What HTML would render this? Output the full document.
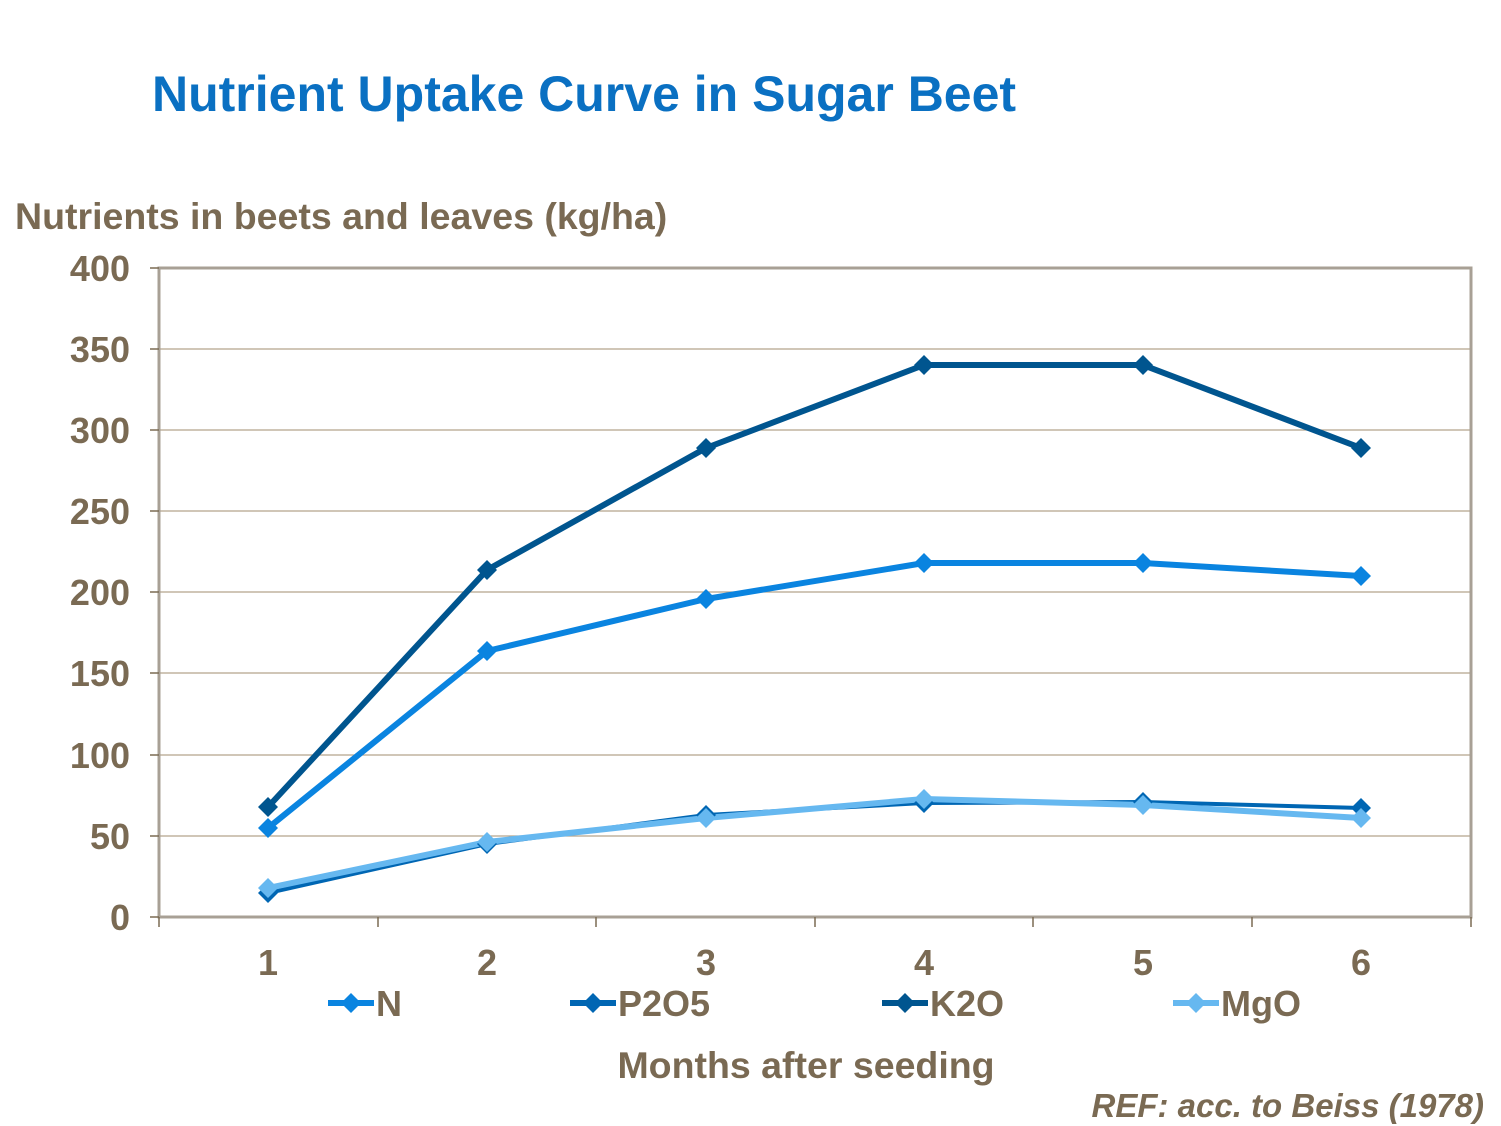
<!DOCTYPE html>
<html><head><style>body{margin:0;background:#fff}svg{display:block}</style></head><body>
<svg width="1501" height="1126" viewBox="0 0 1501 1126" font-family="Liberation Sans, Arial, sans-serif" font-weight="bold">
<text x="152" y="111" font-size="50" fill="#0A70C2">Nutrient Uptake Curve in Sugar Beet</text>
<text x="15" y="229" font-size="37.5" fill="#7A6A53">Nutrients in beets and leaves (kg/ha)</text>
<g stroke="#B5A58C" stroke-width="1.2">
<line x1="159" y1="349" x2="1471" y2="349"/><line x1="159" y1="430" x2="1471" y2="430"/>
<line x1="159" y1="511" x2="1471" y2="511"/><line x1="159" y1="592" x2="1471" y2="592"/>
<line x1="159" y1="673" x2="1471" y2="673"/><line x1="159" y1="755" x2="1471" y2="755"/>
<line x1="159" y1="836" x2="1471" y2="836"/>
</g>
<rect x="159" y="268" width="1312" height="649" fill="none" stroke="#A8A095" stroke-width="3"/>
<g stroke="#7A6A53" stroke-width="1.5">
<line x1="150" y1="268" x2="159" y2="268"/><line x1="150" y1="349" x2="159" y2="349"/><line x1="150" y1="430" x2="159" y2="430"/><line x1="150" y1="511" x2="159" y2="511"/><line x1="150" y1="592" x2="159" y2="592"/><line x1="150" y1="673" x2="159" y2="673"/><line x1="150" y1="755" x2="159" y2="755"/><line x1="150" y1="836" x2="159" y2="836"/><line x1="150" y1="917" x2="159" y2="917"/>
<line x1="159" y1="917" x2="159" y2="927"/><line x1="378" y1="917" x2="378" y2="927"/><line x1="596" y1="917" x2="596" y2="927"/><line x1="815" y1="917" x2="815" y2="927"/><line x1="1033" y1="917" x2="1033" y2="927"/><line x1="1252" y1="917" x2="1252" y2="927"/><line x1="1471" y1="917" x2="1471" y2="927"/>
</g>
<g font-size="36" fill="#7A6A53" text-anchor="end">
<text x="130" y="281">400</text><text x="130" y="362">350</text><text x="130" y="443">300</text><text x="130" y="524">250</text><text x="130" y="605">200</text><text x="130" y="686">150</text><text x="130" y="768">100</text><text x="130" y="849">50</text><text x="130" y="930">0</text>
</g>
<g font-size="36" fill="#7A6A53" text-anchor="middle">
<text x="268" y="975">1</text><text x="487" y="975">2</text><text x="706" y="975">3</text><text x="924" y="975">4</text><text x="1143" y="975">5</text><text x="1361" y="975">6</text>
<text x="806" y="1078" font-size="37.5">Months after seeding</text>
</g>
<text x="1484" y="1117" font-size="33" font-style="italic" fill="#7A6A53" text-anchor="end">REF: acc. to Beiss (1978)</text>
<defs><path id="d" d="M0,-10 L10,0 L0,10 L-10,0Z"/></defs>
<g fill="none" stroke-width="6" stroke-linejoin="round">
<polyline stroke="#0066B3" stroke-width="4" points="268,893 487,844 706,815 924,803 1143,802 1361,808"/>
<polyline stroke="#66B8F0" points="268,888 487,842 706,818 924,799 1143,805 1361,818"/>
<polyline stroke="#0A84E0" points="268,828 487,651 706,599 924,563 1143,563 1361,576"/>
<polyline stroke="#00558F" points="268,807 487,570 706,448 924,365 1143,365 1361,448"/>
</g>
<g fill="#0066B3"><use href="#d" x="268" y="893"/><use href="#d" x="487" y="844"/><use href="#d" x="706" y="815"/><use href="#d" x="924" y="803"/><use href="#d" x="1143" y="802"/><use href="#d" x="1361" y="808"/></g>
<g fill="#66B8F0"><use href="#d" x="268" y="888"/><use href="#d" x="487" y="842"/><use href="#d" x="706" y="818"/><use href="#d" x="924" y="799"/><use href="#d" x="1143" y="805"/><use href="#d" x="1361" y="818"/></g>
<g fill="#0A84E0"><use href="#d" x="268" y="828"/><use href="#d" x="487" y="651"/><use href="#d" x="706" y="599"/><use href="#d" x="924" y="563"/><use href="#d" x="1143" y="563"/><use href="#d" x="1361" y="576"/></g>
<g fill="#00558F"><use href="#d" x="268" y="807"/><use href="#d" x="487" y="570"/><use href="#d" x="706" y="448"/><use href="#d" x="924" y="365"/><use href="#d" x="1143" y="365"/><use href="#d" x="1361" y="448"/></g>
<g stroke-width="6">
<line x1="328" y1="1003" x2="374" y2="1003" stroke="#0A84E0"/><use href="#d" x="351" y="1003" fill="#0A84E0"/>
<line x1="570" y1="1003" x2="616" y2="1003" stroke="#0066B3"/><use href="#d" x="593" y="1003" fill="#0066B3"/>
<line x1="882" y1="1003" x2="928" y2="1003" stroke="#00558F"/><use href="#d" x="905" y="1003" fill="#00558F"/>
<line x1="1173" y1="1003" x2="1219" y2="1003" stroke="#66B8F0"/><use href="#d" x="1196" y="1003" fill="#66B8F0"/>
</g>
<g font-size="36" fill="#7A6A53">
<text x="376" y="1016">N</text><text x="618" y="1016">P2O5</text><text x="930" y="1016">K2O</text><text x="1221" y="1016">MgO</text>
</g>
</svg>
</body></html>
